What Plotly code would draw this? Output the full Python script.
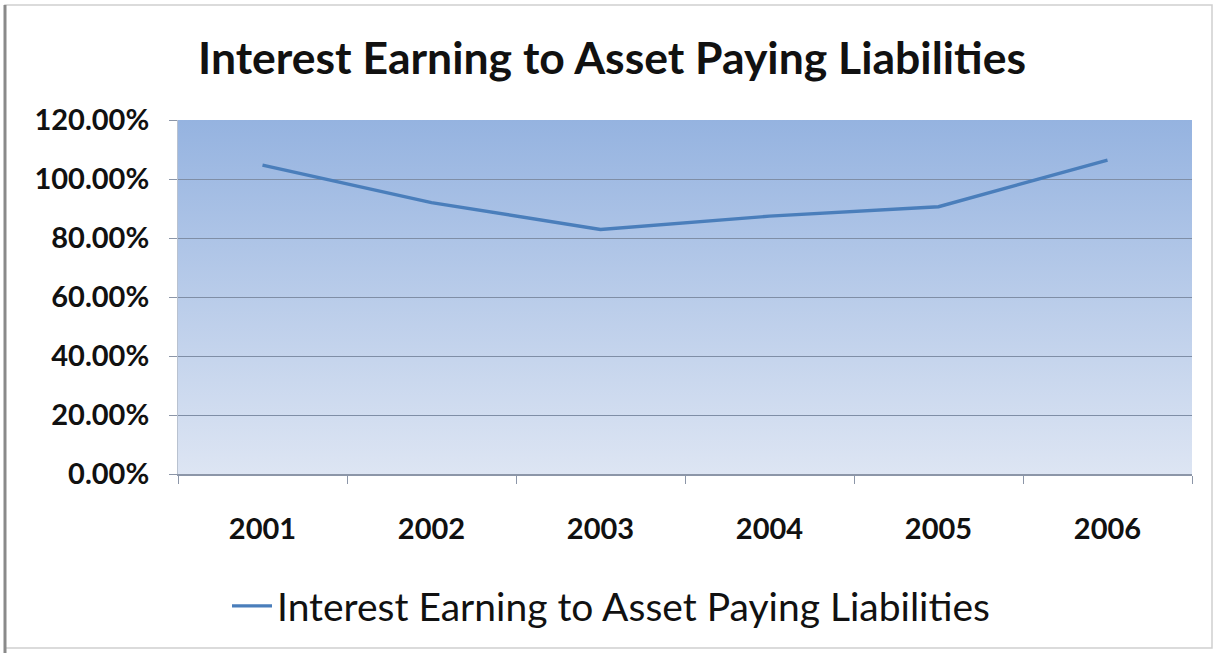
import base64
import plotly.graph_objects as go

# Series data
years = ["2001", "2002", "2003", "2004", "2005", "2006"]
ratio_pct = [104.7, 92.0, 82.9, 87.4, 90.6, 106.4]
series_name = "Interest Earning to Asset Paying Liabilities"
chart_title = "Interest Earning to Asset Paying Liabilities"
y_ticks = [0, 20, 40, 60, 80, 100, 120]
y_tick_text = [f"{v:.2f}%" for v in y_ticks]

W, H = 1215, 653
ML, MR, MT, MB = 178, 23, 120, 179
PW, PH = W - ML - MR, H - MT - MB

# Vertical gradient for the plotting area (darker blue at top)
svg = (
    '<svg xmlns="http://www.w3.org/2000/svg" width="100" height="100" preserveAspectRatio="none">'
    '<defs><linearGradient id="g" x1="0" y1="0" x2="0" y2="1">'
    '<stop offset="0" stop-color="rgb(149,179,224)"/>'
    '<stop offset="1" stop-color="rgb(221,229,243)"/>'
    '</linearGradient></defs>'
    '<rect width="100" height="100" fill="url(#g)"/></svg>'
)
bg_src = "data:image/svg+xml;base64," + base64.b64encode(svg.encode()).decode()

fig = go.Figure()
fig.add_trace(go.Scatter(
    x=years, y=ratio_pct, mode="lines", name=series_name,
    line=dict(color="#4A7EBB", width=3.4),
))


def px_x(p):
    return (p - ML) / PW


def px_y(p):
    return 1 - (p - MT) / PH


tick_font = dict(size=29, family="Lato", color="#111111", weight="bold")

fig.update_layout(
    width=W, height=H,
    margin=dict(l=ML, r=MR, t=MT, b=MB, autoexpand=False),
    paper_bgcolor="white",
    plot_bgcolor="rgba(0,0,0,0)",
    font=dict(family="Lato", color="#1a1a1a"),
    title=dict(
        text=chart_title,
        x=px_x(612), xref="paper", xanchor="center",
        y=1 - 58 / H, yanchor="middle",
        font=dict(size=44.5, family="Lato", color="#111111", weight="bold"),
    ),
    images=[dict(
        source=bg_src, xref="paper", yref="paper", x=0, y=1,
        sizex=1, sizey=1, sizing="stretch", layer="below",
        xanchor="left", yanchor="top",
    )],
    showlegend=True,
    legend=dict(
        orientation="h", x=px_x(611), xanchor="center",
        y=px_y(606), yanchor="middle",
        font=dict(size=39, family="Lato", color="#111111"),
        itemwidth=40,
    ),
    xaxis=dict(
        type="category", tickson="boundaries", range=[-0.5, 5.5],
        ticks="outside", ticklen=8, tickcolor="#8c96a8", tickwidth=1,
        showgrid=False, showline=True, linecolor="#8c96a8", linewidth=1.5,
        tickfont=tick_font,
        ticklabelstandoff=28,
    ),
    yaxis=dict(
        range=[0, 120], tickvals=y_ticks, ticktext=y_tick_text,
        ticks="outside", ticklen=8, tickcolor="#8c96a8", tickwidth=1,
        showgrid=True, gridcolor="#7f8ea6", gridwidth=1.2,
        showline=True, linecolor="#b9c2d0", linewidth=1,
        zeroline=False,
        tickfont=tick_font,
        ticklabelstandoff=14,
    ),
    shapes=[
        # outer frame of the chart
        dict(type="rect", xref="paper", yref="paper",
             x0=px_x(5), x1=px_x(1212), y0=px_y(648), y1=px_y(5),
             line=dict(color="#d0d0d0", width=1.5), layer="below"),
        dict(type="line", xref="paper", yref="paper",
             x0=px_x(5), x1=px_x(5), y0=px_y(653), y1=px_y(5),
             line=dict(color="#8a8a8a", width=3)),
    ],
)

fig.write_html("out.html")
